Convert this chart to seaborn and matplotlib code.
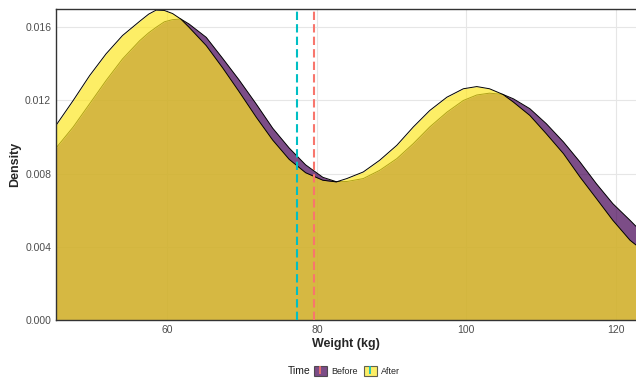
import numpy as np
import pandas as pd
import matplotlib
matplotlib.use('Agg')
import matplotlib.pyplot as plt
import seaborn as sns
from matplotlib.patches import Patch
from matplotlib.lines import Line2D

# density curves (kg -> density)
weight = [45.1, 47.4, 49.6, 51.8, 54.0, 56.3, 57.5, 58.5, 59.6, 60.7, 61.8, 62.9,
          65.2, 67.4, 69.6, 71.9, 74.1, 76.3, 78.5, 80.8, 82.6, 84.0, 86.2, 88.4,
          90.7, 92.9, 95.1, 97.4, 99.6, 101.4, 103.1, 104.9, 106.3, 108.5, 110.7,
          113.0, 115.2, 117.4, 119.6, 121.9, 122.7]
before = [0.00940, 0.01055, 0.01182, 0.01309, 0.01427, 0.01527, 0.01570, 0.01600,
          0.01630, 0.01642, 0.01645, 0.01618, 0.01545, 0.01430, 0.01312, 0.01180,
          0.01048, 0.00940, 0.00848, 0.00780, 0.00756, 0.00757, 0.00773, 0.00818,
          0.00882, 0.00964, 0.01055, 0.01136, 0.01200, 0.01230, 0.01240, 0.01233,
          0.01209, 0.01155, 0.01073, 0.00973, 0.00864, 0.00745, 0.00636, 0.00545,
          0.00512]
after = [0.01064, 0.01200, 0.01336, 0.01455, 0.01555, 0.01633, 0.01672, 0.01694,
         0.01692, 0.01675, 0.01645, 0.01600, 0.01500, 0.01378, 0.01248, 0.01108,
         0.00983, 0.00878, 0.00805, 0.00764, 0.00755, 0.00773, 0.00809, 0.00873,
         0.00955, 0.01055, 0.01145, 0.01218, 0.01264, 0.01276, 0.01264, 0.01233,
         0.01191, 0.01118, 0.01018, 0.00909, 0.00782, 0.00664, 0.00545, 0.00436,
         0.00410]

groups = ['Before', 'After']
fill_colors = ['#440154', '#FDE725']
mean_weights = [79.6, 77.4]
mean_colors = ['#F8766D', '#00BFC4']
x_ticks = [60, 80, 100, 120]
y_ticks = [0.000, 0.004, 0.008, 0.012, 0.016]

df = pd.DataFrame({'Weight': weight * 2,
                   'Density': before + after,
                   'Time': ['Before'] * len(weight) + ['After'] * len(weight)})

sns.set_theme(style='white')
plt.rcParams['font.family'] = ['Liberation Sans', 'DejaVu Sans']

fig = plt.figure(figsize=(6.36, 3.81), dpi=100)
ax = fig.add_axes([56 / 636, 1 - 320 / 381, 1 - 56 / 636, 311 / 381])

for i, g in enumerate(groups):
    sub = df[df['Time'] == g]
    ax.fill_between(sub['Weight'], 0, sub['Density'], color=fill_colors[i],
                    alpha=0.7, linewidth=0, zorder=2 + i * 0.2)
    sns.lineplot(data=sub, x='Weight', y='Density', color='black', linewidth=0.7,
                 ax=ax, zorder=2.1 + i * 0.2)

for m, c in zip(mean_weights, mean_colors):
    ax.axvline(m, color=c, linestyle=(0, (4, 2)), linewidth=1.5, zorder=3)

ax.set_xlim(45.1, 122.7)
ax.set_ylim(0, 0.0170)
ax.set_xticks(x_ticks)
ax.set_yticks(y_ticks)
ax.set_yticklabels([f'{v:.3f}' for v in y_ticks])
ax.grid(True, color='#E6E6E6', linewidth=0.8, zorder=0)
ax.set_axisbelow(True)
ax.tick_params(axis='both', length=2, width=0.6, color='#333333',
               labelsize=7.5, labelcolor='#4D4D4D', pad=1.5)

for side in ['left', 'bottom', 'top']:
    ax.spines[side].set_color('#333333')
    ax.spines[side].set_linewidth(1.0)
ax.spines['right'].set_visible(False)

ax.set_xlabel('Weight (kg)', fontsize=9, fontweight='bold', labelpad=2)
ax.set_ylabel('Density', fontsize=9, fontweight='bold', labelpad=3)

# legend below the panel, title to the left
fig.text(299 / 636, 1 - 371 / 381, 'Time', fontsize=7.5, ha='center', va='center',
         color='#1A1A1A')
handles = []
for fc, mc in zip(fill_colors, mean_colors):
    box = Patch(facecolor=fc, alpha=0.7, edgecolor='#222222', linewidth=0.8)
    tick = Line2D([], [], color=mc, marker='|', linestyle='none', markersize=6,
                  markeredgewidth=1.2)
    handles.append((box, tick))
fig.legend(handles, groups, loc='center left',
           bbox_to_anchor=(314 / 636, 1 - 371 / 381), ncol=2, frameon=False,
           fontsize=6.5, handlelength=1.4, handleheight=1.4, handletextpad=0.5,
           columnspacing=0.7, borderpad=0, borderaxespad=0)

fig.savefig('out.png', dpi=100)
